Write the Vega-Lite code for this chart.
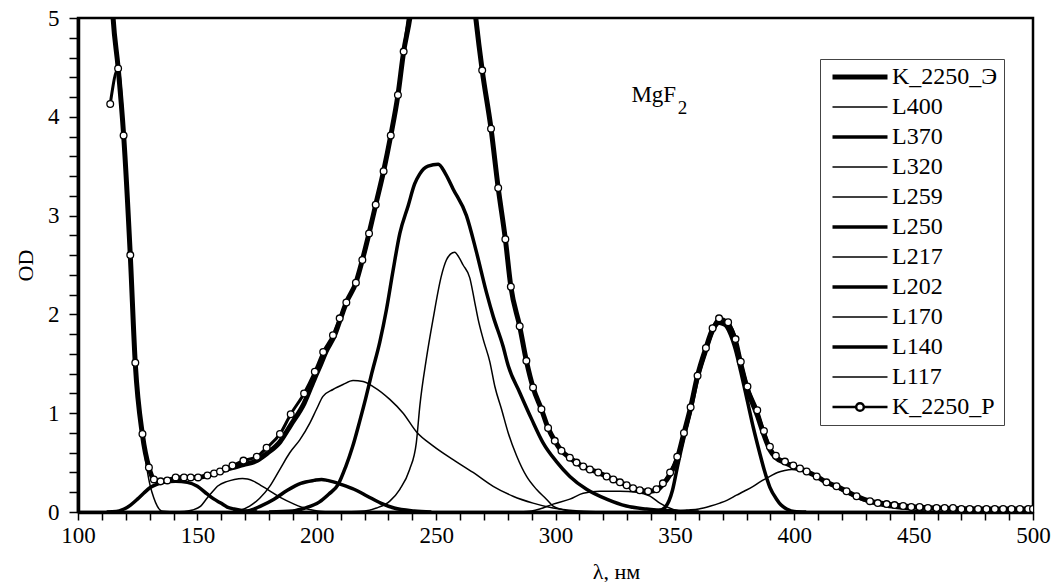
{
  "$schema": "https://vega.github.io/schema/vega-lite/v6.json",
  "width": 955,
  "height": 494,
  "autosize": {"type": "none"},
  "padding": {"left": 78, "top": 18, "right": 20, "bottom": 70},
  "background": "white",
  "config": {
    "view": {"stroke": "black", "strokeWidth": 2.5},
    "font": "Liberation Serif",
    "axis": {
      "grid": false,
      "ticks": true,
      "tickWidth": 1.5,
      "tickColor": "#000000",
      "domainColor": "#000000",
      "domainWidth": 3.5,
      "labelColor": "#000000",
      "labelOverlap": false,
      "labelFlush": false,
      "labelFont": "Liberation Serif",
      "titleFont": "Liberation Serif",
      "titleFontWeight": "normal",
      "titleColor": "#000000"
    },
    "axisX": {"tickSize": 8, "labelFontSize": 23, "labelPadding": 4, "titleFontSize": 22},
    "axisY": {"tickSize": 9, "labelFontSize": 23, "labelPadding": 10, "titleFontSize": 22}
  },
  "datasets": {
    "curves": [
      {"s":"K_2250_Э","x":113,"y":5.8},{"s":"K_2250_Э","x":114.7,"y":5.0},{"s":"K_2250_Э","x":116.8,"y":4.5},{"s":"K_2250_Э","x":119.1,"y":3.82},{"s":"K_2250_Э","x":121.9,"y":2.6},{"s":"K_2250_Э","x":124,"y":1.5},{"s":"K_2250_Э","x":127,"y":0.78},{"s":"K_2250_Э","x":129.7,"y":0.45},{"s":"K_2250_Э","x":131.8,"y":0.33},{"s":"K_2250_Э","x":134.6,"y":0.31},{"s":"K_2250_Э","x":137.4,"y":0.32},{"s":"K_2250_Э","x":140.9,"y":0.34},{"s":"K_2250_Э","x":144.4,"y":0.35},{"s":"K_2250_Э","x":147.2,"y":0.35},{"s":"K_2250_Э","x":150.3,"y":0.35},{"s":"K_2250_Э","x":154.2,"y":0.37},{"s":"K_2250_Э","x":157,"y":0.39},{"s":"K_2250_Э","x":161.9,"y":0.43},{"s":"K_2250_Э","x":164.7,"y":0.45},{"s":"K_2250_Э","x":169.3,"y":0.48},{"s":"K_2250_Э","x":174.9,"y":0.52},{"s":"K_2250_Э","x":179,"y":0.59},{"s":"K_2250_Э","x":184.6,"y":0.71},{"s":"K_2250_Э","x":189.1,"y":0.88},{"s":"K_2250_Э","x":194.7,"y":1.1},{"s":"K_2250_Э","x":199.2,"y":1.36},{"s":"K_2250_Э","x":201.4,"y":1.48},{"s":"K_2250_Э","x":203.8,"y":1.62},{"s":"K_2250_Э","x":207.5,"y":1.79},{"s":"K_2250_Э","x":210,"y":1.96},{"s":"K_2250_Э","x":212.4,"y":2.12},{"s":"K_2250_Э","x":216.4,"y":2.32},{"s":"K_2250_Э","x":219.1,"y":2.55},{"s":"K_2250_Э","x":221.9,"y":2.82},{"s":"K_2250_Э","x":224.7,"y":3.11},{"s":"K_2250_Э","x":228,"y":3.45},{"s":"K_2250_Э","x":231,"y":3.81},{"s":"K_2250_Э","x":234,"y":4.22},{"s":"K_2250_Э","x":236.4,"y":4.66},{"s":"K_2250_Э","x":239,"y":5.0},{"s":"K_2250_Э","x":242,"y":5.6},{"s":"K_2250_Э","x":253,"y":7.0},{"s":"K_2250_Э","x":264,"y":5.6},{"s":"K_2250_Э","x":266.6,"y":5.0},{"s":"K_2250_Э","x":269.3,"y":4.47},{"s":"K_2250_Э","x":273,"y":3.88},{"s":"K_2250_Э","x":276,"y":3.28},{"s":"K_2250_Э","x":279,"y":2.76},{"s":"K_2250_Э","x":281.3,"y":2.28},{"s":"K_2250_Э","x":285,"y":1.88},{"s":"K_2250_Э","x":287.8,"y":1.53},{"s":"K_2250_Э","x":290.6,"y":1.26},{"s":"K_2250_Э","x":294.1,"y":1.04},{"s":"K_2250_Э","x":296.9,"y":0.85},{"s":"K_2250_Э","x":299.7,"y":0.72},{"s":"K_2250_Э","x":302.5,"y":0.62},{"s":"K_2250_Э","x":306,"y":0.55},{"s":"K_2250_Э","x":308.8,"y":0.5},{"s":"K_2250_Э","x":311.6,"y":0.46},{"s":"K_2250_Э","x":314.4,"y":0.43},{"s":"K_2250_Э","x":317.9,"y":0.4},{"s":"K_2250_Э","x":321.4,"y":0.36},{"s":"K_2250_Э","x":324.2,"y":0.33},{"s":"K_2250_Э","x":327,"y":0.3},{"s":"K_2250_Э","x":329.8,"y":0.27},{"s":"K_2250_Э","x":332.5,"y":0.24},{"s":"K_2250_Э","x":335.3,"y":0.22},{"s":"K_2250_Э","x":338.8,"y":0.21},{"s":"K_2250_Э","x":342.3,"y":0.22},{"s":"K_2250_Э","x":345,"y":0.28},{"s":"K_2250_Э","x":348,"y":0.38},{"s":"K_2250_Э","x":351,"y":0.54},{"s":"K_2250_Э","x":353.8,"y":0.8},{"s":"K_2250_Э","x":356.6,"y":1.06},{"s":"K_2250_Э","x":359.5,"y":1.38},{"s":"K_2250_Э","x":363,"y":1.66},{"s":"K_2250_Э","x":365.8,"y":1.85},{"s":"K_2250_Э","x":368.5,"y":1.92},{"s":"K_2250_Э","x":372.3,"y":1.89},{"s":"K_2250_Э","x":375.4,"y":1.73},{"s":"K_2250_Э","x":377.6,"y":1.5},{"s":"K_2250_Э","x":380.4,"y":1.24},{"s":"K_2250_Э","x":384.5,"y":0.98},{"s":"K_2250_Э","x":387.3,"y":0.78},{"s":"K_2250_Э","x":389.8,"y":0.63},{"s":"K_2250_Э","x":392.3,"y":0.55},{"s":"K_2250_Э","x":396.1,"y":0.5},{"s":"K_2250_Э","x":399.6,"y":0.46},{"s":"K_2250_Э","x":402.4,"y":0.44},{"s":"K_2250_Э","x":405.2,"y":0.41},{"s":"K_2250_Э","x":409.4,"y":0.36},{"s":"K_2250_Э","x":413.5,"y":0.3},{"s":"K_2250_Э","x":417.7,"y":0.26},{"s":"K_2250_Э","x":421.9,"y":0.21},{"s":"K_2250_Э","x":426.1,"y":0.16},{"s":"K_2250_Э","x":431.7,"y":0.11},{"s":"K_2250_Э","x":438.7,"y":0.08},{"s":"K_2250_Э","x":445.6,"y":0.06},{"s":"K_2250_Э","x":459.6,"y":0.04},{"s":"K_2250_Э","x":480,"y":0.03},{"s":"K_2250_Э","x":500,"y":0.03},

      {"s":"K_2250_P","x":113.5,"y":4.13},{"s":"K_2250_P","x":116.8,"y":4.49},{"s":"K_2250_P","x":119.1,"y":3.81},{"s":"K_2250_P","x":121.9,"y":2.6},{"s":"K_2250_P","x":124,"y":1.51},{"s":"K_2250_P","x":127,"y":0.79},{"s":"K_2250_P","x":129.7,"y":0.45},{"s":"K_2250_P","x":131.8,"y":0.33},{"s":"K_2250_P","x":134.6,"y":0.31},{"s":"K_2250_P","x":137.4,"y":0.32},{"s":"K_2250_P","x":140.9,"y":0.35},{"s":"K_2250_P","x":144.4,"y":0.35},{"s":"K_2250_P","x":147.2,"y":0.35},{"s":"K_2250_P","x":150.3,"y":0.35},{"s":"K_2250_P","x":154.2,"y":0.37},{"s":"K_2250_P","x":157,"y":0.39},{"s":"K_2250_P","x":159.5,"y":0.41},{"s":"K_2250_P","x":161.9,"y":0.44},{"s":"K_2250_P","x":164.7,"y":0.47},{"s":"K_2250_P","x":169.3,"y":0.52},{"s":"K_2250_P","x":174.9,"y":0.56},{"s":"K_2250_P","x":179,"y":0.65},{"s":"K_2250_P","x":184.6,"y":0.79},{"s":"K_2250_P","x":189.1,"y":0.99},{"s":"K_2250_P","x":194.7,"y":1.2},{"s":"K_2250_P","x":199.2,"y":1.42},{"s":"K_2250_P","x":202.7,"y":1.62},{"s":"K_2250_P","x":206.8,"y":1.79},{"s":"K_2250_P","x":209.6,"y":1.96},{"s":"K_2250_P","x":212.4,"y":2.12},{"s":"K_2250_P","x":216.4,"y":2.32},{"s":"K_2250_P","x":219.1,"y":2.55},{"s":"K_2250_P","x":221.9,"y":2.82},{"s":"K_2250_P","x":224.7,"y":3.11},{"s":"K_2250_P","x":228,"y":3.45},{"s":"K_2250_P","x":231,"y":3.81},{"s":"K_2250_P","x":234,"y":4.22},{"s":"K_2250_P","x":236.4,"y":4.66},{"s":"K_2250_P","x":242,"y":5.6},{"s":"K_2250_P","x":253,"y":7.0},{"s":"K_2250_P","x":264,"y":5.6},{"s":"K_2250_P","x":269.3,"y":4.47},{"s":"K_2250_P","x":273,"y":3.88},{"s":"K_2250_P","x":276,"y":3.28},{"s":"K_2250_P","x":279,"y":2.76},{"s":"K_2250_P","x":281.3,"y":2.28},{"s":"K_2250_P","x":285,"y":1.88},{"s":"K_2250_P","x":287.8,"y":1.53},{"s":"K_2250_P","x":290.6,"y":1.26},{"s":"K_2250_P","x":294.1,"y":1.04},{"s":"K_2250_P","x":296.9,"y":0.85},{"s":"K_2250_P","x":299.7,"y":0.72},{"s":"K_2250_P","x":302.5,"y":0.62},{"s":"K_2250_P","x":306,"y":0.55},{"s":"K_2250_P","x":308.8,"y":0.5},{"s":"K_2250_P","x":311.6,"y":0.46},{"s":"K_2250_P","x":314.4,"y":0.43},{"s":"K_2250_P","x":317.9,"y":0.4},{"s":"K_2250_P","x":321.4,"y":0.36},{"s":"K_2250_P","x":324.2,"y":0.33},{"s":"K_2250_P","x":327,"y":0.3},{"s":"K_2250_P","x":329.8,"y":0.27},{"s":"K_2250_P","x":332.5,"y":0.24},{"s":"K_2250_P","x":335.3,"y":0.22},{"s":"K_2250_P","x":338.8,"y":0.21},{"s":"K_2250_P","x":342.3,"y":0.23},{"s":"K_2250_P","x":345,"y":0.29},{"s":"K_2250_P","x":348,"y":0.4},{"s":"K_2250_P","x":351,"y":0.56},{"s":"K_2250_P","x":353.8,"y":0.8},{"s":"K_2250_P","x":356.6,"y":1.06},{"s":"K_2250_P","x":359.5,"y":1.38},{"s":"K_2250_P","x":363,"y":1.66},{"s":"K_2250_P","x":365.8,"y":1.86},{"s":"K_2250_P","x":368.5,"y":1.96},{"s":"K_2250_P","x":372.3,"y":1.92},{"s":"K_2250_P","x":375.4,"y":1.75},{"s":"K_2250_P","x":377.6,"y":1.52},{"s":"K_2250_P","x":380.4,"y":1.27},{"s":"K_2250_P","x":384.5,"y":1.03},{"s":"K_2250_P","x":387.3,"y":0.82},{"s":"K_2250_P","x":389.8,"y":0.66},{"s":"K_2250_P","x":392.3,"y":0.57},{"s":"K_2250_P","x":396.1,"y":0.51},{"s":"K_2250_P","x":399.6,"y":0.47},{"s":"K_2250_P","x":402.4,"y":0.44},{"s":"K_2250_P","x":405.2,"y":0.41},{"s":"K_2250_P","x":409.4,"y":0.36},{"s":"K_2250_P","x":413.5,"y":0.3},{"s":"K_2250_P","x":417.7,"y":0.26},{"s":"K_2250_P","x":421.9,"y":0.21},{"s":"K_2250_P","x":426.1,"y":0.16},{"s":"K_2250_P","x":431.7,"y":0.11},{"s":"K_2250_P","x":435,"y":0.09},{"s":"K_2250_P","x":438.7,"y":0.08},{"s":"K_2250_P","x":442,"y":0.07},{"s":"K_2250_P","x":445.6,"y":0.06},{"s":"K_2250_P","x":449,"y":0.05},{"s":"K_2250_P","x":452.5,"y":0.05},{"s":"K_2250_P","x":456,"y":0.04},{"s":"K_2250_P","x":459.6,"y":0.04},{"s":"K_2250_P","x":463,"y":0.04},{"s":"K_2250_P","x":466.5,"y":0.04},{"s":"K_2250_P","x":470,"y":0.03},{"s":"K_2250_P","x":473.5,"y":0.03},{"s":"K_2250_P","x":477,"y":0.03},{"s":"K_2250_P","x":480.5,"y":0.03},{"s":"K_2250_P","x":484,"y":0.03},{"s":"K_2250_P","x":487.5,"y":0.03},{"s":"K_2250_P","x":491,"y":0.03},{"s":"K_2250_P","x":494.5,"y":0.03},{"s":"K_2250_P","x":498,"y":0.03},{"s":"K_2250_P","x":500,"y":0.03},

      {"s":"L117","x":113,"y":5.8},{"s":"L117","x":115,"y":5.0},{"s":"L117","x":117,"y":4.4},{"s":"L117","x":119,"y":3.8},{"s":"L117","x":122,"y":2.55},{"s":"L117","x":124,"y":1.48},{"s":"L117","x":127,"y":0.75},{"s":"L117","x":129,"y":0.42},{"s":"L117","x":130.2,"y":0.27},{"s":"L117","x":131.8,"y":0.14},{"s":"L117","x":133.2,"y":0.06},{"s":"L117","x":135,"y":0.01},{"s":"L117","x":140,"y":0},

      {"s":"L140","x":112,"y":0},{"s":"L140","x":116,"y":0.005},{"s":"L140","x":119.3,"y":0.03},{"s":"L140","x":122,"y":0.07},{"s":"L140","x":124.9,"y":0.13},{"s":"L140","x":127.5,"y":0.19},{"s":"L140","x":130.4,"y":0.25},{"s":"L140","x":133,"y":0.28},{"s":"L140","x":136,"y":0.3},{"s":"L140","x":140.9,"y":0.31},{"s":"L140","x":145.8,"y":0.3},{"s":"L140","x":150,"y":0.26},{"s":"L140","x":154.2,"y":0.18},{"s":"L140","x":157,"y":0.13},{"s":"L140","x":159.8,"y":0.09},{"s":"L140","x":162.5,"y":0.05},{"s":"L140","x":165.4,"y":0.03},{"s":"L140","x":169.6,"y":0.01},{"s":"L140","x":175,"y":0},

      {"s":"L170","x":140,"y":0},{"s":"L170","x":144.4,"y":0.005},{"s":"L170","x":148,"y":0.02},{"s":"L170","x":151.4,"y":0.06},{"s":"L170","x":154.2,"y":0.145},{"s":"L170","x":156.5,"y":0.21},{"s":"L170","x":158.4,"y":0.26},{"s":"L170","x":162.6,"y":0.31},{"s":"L170","x":165.5,"y":0.33},{"s":"L170","x":168.9,"y":0.34},{"s":"L170","x":171,"y":0.335},{"s":"L170","x":173.7,"y":0.31},{"s":"L170","x":176.5,"y":0.27},{"s":"L170","x":179.3,"y":0.23},{"s":"L170","x":184.9,"y":0.145},{"s":"L170","x":190.5,"y":0.08},{"s":"L170","x":196.1,"y":0.03},{"s":"L170","x":200.3,"y":0.01},{"s":"L170","x":205,"y":0},

      {"s":"L202","x":165,"y":0},{"s":"L202","x":171,"y":0.01},{"s":"L202","x":176.5,"y":0.06},{"s":"L202","x":182.1,"y":0.13},{"s":"L202","x":187.7,"y":0.22},{"s":"L202","x":193.3,"y":0.29},{"s":"L202","x":198.9,"y":0.32},{"s":"L202","x":202,"y":0.33},{"s":"L202","x":204.5,"y":0.32},{"s":"L202","x":207,"y":0.305},{"s":"L202","x":210.1,"y":0.28},{"s":"L202","x":215.6,"y":0.23},{"s":"L202","x":221.2,"y":0.16},{"s":"L202","x":226.8,"y":0.09},{"s":"L202","x":232.4,"y":0.04},{"s":"L202","x":240.8,"y":0.01},{"s":"L202","x":248,"y":0},

      {"s":"L217","x":160,"y":0},{"s":"L217","x":165,"y":0.005},{"s":"L217","x":171.9,"y":0.06},{"s":"L217","x":176.1,"y":0.14},{"s":"L217","x":180.3,"y":0.26},{"s":"L217","x":184.5,"y":0.43},{"s":"L217","x":188.7,"y":0.6},{"s":"L217","x":192.9,"y":0.73},{"s":"L217","x":197.1,"y":0.9},{"s":"L217","x":199.9,"y":1.04},{"s":"L217","x":202.6,"y":1.17},{"s":"L217","x":206.8,"y":1.24},{"s":"L217","x":211,"y":1.29},{"s":"L217","x":215.2,"y":1.33},{"s":"L217","x":219.4,"y":1.32},{"s":"L217","x":223.6,"y":1.27},{"s":"L217","x":230.6,"y":1.14},{"s":"L217","x":236.2,"y":1.0},{"s":"L217","x":241.8,"y":0.81},{"s":"L217","x":248.7,"y":0.67},{"s":"L217","x":257.1,"y":0.53},{"s":"L217","x":265.5,"y":0.4},{"s":"L217","x":273.9,"y":0.26},{"s":"L217","x":282.2,"y":0.16},{"s":"L217","x":290.6,"y":0.09},{"s":"L217","x":299,"y":0.04},{"s":"L217","x":310,"y":0.01},{"s":"L217","x":320,"y":0},

      {"s":"L250","x":180,"y":0},{"s":"L250","x":190,"y":0.01},{"s":"L250","x":195,"y":0.04},{"s":"L250","x":201,"y":0.1},{"s":"L250","x":205,"y":0.18},{"s":"L250","x":209,"y":0.28},{"s":"L250","x":212,"y":0.45},{"s":"L250","x":215,"y":0.66},{"s":"L250","x":218,"y":0.92},{"s":"L250","x":220.5,"y":1.15},{"s":"L250","x":223,"y":1.4},{"s":"L250","x":226.4,"y":1.72},{"s":"L250","x":229.2,"y":2.05},{"s":"L250","x":232,"y":2.45},{"s":"L250","x":234.8,"y":2.82},{"s":"L250","x":238.3,"y":3.1},{"s":"L250","x":241,"y":3.32},{"s":"L250","x":243.1,"y":3.42},{"s":"L250","x":246.6,"y":3.5},{"s":"L250","x":250.9,"y":3.52},{"s":"L250","x":254,"y":3.42},{"s":"L250","x":257.1,"y":3.27},{"s":"L250","x":262.7,"y":3.0},{"s":"L250","x":266.9,"y":2.63},{"s":"L250","x":271.1,"y":2.22},{"s":"L250","x":273.9,"y":1.98},{"s":"L250","x":278,"y":1.68},{"s":"L250","x":280.2,"y":1.48},{"s":"L250","x":285,"y":1.21},{"s":"L250","x":290,"y":0.94},{"s":"L250","x":294.8,"y":0.7},{"s":"L250","x":300.4,"y":0.51},{"s":"L250","x":306,"y":0.36},{"s":"L250","x":313,"y":0.23},{"s":"L250","x":321.4,"y":0.13},{"s":"L250","x":329.7,"y":0.06},{"s":"L250","x":338.1,"y":0.03},{"s":"L250","x":350,"y":0.01},{"s":"L250","x":360,"y":0},

      {"s":"L259","x":212,"y":0},{"s":"L259","x":220,"y":0.01},{"s":"L259","x":225,"y":0.04},{"s":"L259","x":230.6,"y":0.11},{"s":"L259","x":234.8,"y":0.23},{"s":"L259","x":238.9,"y":0.43},{"s":"L259","x":241.7,"y":0.7},{"s":"L259","x":243.2,"y":1.08},{"s":"L259","x":245.9,"y":1.55},{"s":"L259","x":248.7,"y":1.95},{"s":"L259","x":252.2,"y":2.39},{"s":"L259","x":254.3,"y":2.55},{"s":"L259","x":256,"y":2.61},{"s":"L259","x":257.8,"y":2.63},{"s":"L259","x":259.5,"y":2.58},{"s":"L259","x":261.3,"y":2.5},{"s":"L259","x":264.1,"y":2.37},{"s":"L259","x":266.2,"y":2.12},{"s":"L259","x":267.6,"y":1.95},{"s":"L259","x":269.7,"y":1.75},{"s":"L259","x":272.5,"y":1.52},{"s":"L259","x":274.6,"y":1.27},{"s":"L259","x":277.4,"y":1.04},{"s":"L259","x":280.2,"y":0.8},{"s":"L259","x":283.7,"y":0.57},{"s":"L259","x":287.9,"y":0.36},{"s":"L259","x":292,"y":0.23},{"s":"L259","x":296.2,"y":0.13},{"s":"L259","x":299,"y":0.06},{"s":"L259","x":302,"y":0.03},{"s":"L259","x":310,"y":0},

      {"s":"L320","x":285,"y":0},{"s":"L320","x":290,"y":0.01},{"s":"L320","x":293.4,"y":0.03},{"s":"L320","x":299,"y":0.08},{"s":"L320","x":306,"y":0.13},{"s":"L320","x":311.6,"y":0.19},{"s":"L320","x":318.6,"y":0.21},{"s":"L320","x":327,"y":0.21},{"s":"L320","x":334,"y":0.2},{"s":"L320","x":339.6,"y":0.16},{"s":"L320","x":343.7,"y":0.09},{"s":"L320","x":349.3,"y":0.025},{"s":"L320","x":355,"y":0},{"s":"L320","x":360,"y":0},

      {"s":"L370","x":340,"y":0},{"s":"L370","x":343,"y":0.01},{"s":"L370","x":346,"y":0.05},{"s":"L370","x":349,"y":0.22},{"s":"L370","x":351,"y":0.45},{"s":"L370","x":353.8,"y":0.75},{"s":"L370","x":356.6,"y":1.02},{"s":"L370","x":359.5,"y":1.34},{"s":"L370","x":363,"y":1.62},{"s":"L370","x":365.8,"y":1.82},{"s":"L370","x":368.5,"y":1.91},{"s":"L370","x":371,"y":1.89},{"s":"L370","x":373,"y":1.81},{"s":"L370","x":375.4,"y":1.64},{"s":"L370","x":377.6,"y":1.42},{"s":"L370","x":380.4,"y":1.12},{"s":"L370","x":383,"y":0.84},{"s":"L370","x":385.5,"y":0.6},{"s":"L370","x":387.5,"y":0.42},{"s":"L370","x":389.8,"y":0.25},{"s":"L370","x":392.6,"y":0.13},{"s":"L370","x":394.5,"y":0.07},{"s":"L370","x":396.8,"y":0.03},{"s":"L370","x":400,"y":0.005},{"s":"L370","x":405,"y":0},

      {"s":"L400","x":340,"y":0},{"s":"L400","x":345,"y":0.005},{"s":"L400","x":350,"y":0.01},{"s":"L400","x":355,"y":0.02},{"s":"L400","x":360,"y":0.03},{"s":"L400","x":362,"y":0.04},{"s":"L400","x":365,"y":0.06},{"s":"L400","x":368.8,"y":0.09},{"s":"L400","x":372,"y":0.12},{"s":"L400","x":375.8,"y":0.17},{"s":"L400","x":379,"y":0.21},{"s":"L400","x":382.8,"y":0.26},{"s":"L400","x":386,"y":0.31},{"s":"L400","x":389.8,"y":0.36},{"s":"L400","x":393,"y":0.4},{"s":"L400","x":396,"y":0.42},{"s":"L400","x":399,"y":0.43},{"s":"L400","x":402,"y":0.42},{"s":"L400","x":405,"y":0.4},{"s":"L400","x":409.4,"y":0.35},{"s":"L400","x":413.5,"y":0.29},{"s":"L400","x":417.7,"y":0.24},{"s":"L400","x":421.9,"y":0.19},{"s":"L400","x":426.1,"y":0.14},{"s":"L400","x":431.7,"y":0.09},{"s":"L400","x":438.7,"y":0.05},{"s":"L400","x":445.6,"y":0.03},{"s":"L400","x":455,"y":0.01},{"s":"L400","x":470,"y":0}
    ]
  },
  "encoding": {
    "x": {
      "field": "x", "type": "quantitative",
      "scale": {"domain": [100, 500], "nice": false, "zero": false},
      "axis": {
        "title": "λ, нм",
        "values": [100,110,120,130,140,150,160,170,180,190,200,210,220,230,240,250,260,270,280,290,300,310,320,330,340,350,360,370,380,390,400,410,420,430,440,450,460,470,480,490,500],
        "labelExpr": "datum.value % 50 === 0 ? format(datum.value, 'd') : ''",
        "labelOverlap": false,
        "titleX": 538, "titleY": 66, "titleBaseline": "alphabetic", "titleAlign": "center"
      }
    },
    "y": {
      "field": "y", "type": "quantitative",
      "scale": {"domain": [0, 5], "nice": false},
      "axis": {
        "title": "OD",
        "values": [0,0.2,0.4,0.6,0.8,1,1.2,1.4,1.6,1.8,2,2.2,2.4,2.6,2.8,3,3.2,3.4,3.6,3.8,4,4.2,4.4,4.6,4.8,5],
        "labelExpr": "datum.value % 1 === 0 ? format(datum.value, 'd') : ''",
        "labelOverlap": false,
        "titleX": -53, "titleY": 247, "titleBaseline": "middle", "titleAlign": "center", "titleAngle": -90
      }
    }
  },
  "layer": [
    {
      "data": {"name": "curves"},
      "transform": [{"filter": {"field": "s", "oneOf": ["L400", "L320", "L259", "L217", "L170", "L117"]}}],
      "mark": {"type": "line", "strokeWidth": 1.5, "interpolate": "monotone", "clip": true},
      "encoding": {
        "color": {
          "field": "s", "type": "nominal",
          "scale": {
            "domain": ["K_2250_Э", "L400", "L370", "L320", "L259", "L250", "L217", "L202", "L170", "L140", "L117", "K_2250_P"],
            "range": ["#000000","#000000","#000000","#000000","#000000","#000000","#000000","#000000","#000000","#000000","#000000","#000000"]
          },
          "legend": {
            "title": null,
            "orient": "none", "legendX": 742, "legendY": 41,
            "strokeColor": "#444444", "fillColor": "white", "padding": 6,
            "labelFont": "Liberation Serif", "labelFontSize": 24, "labelColor": "black",
            "labelOffset": 42,
            "symbolType": "M-1,0L9,0", "symbolSize": 121, "symbolStrokeWidth": 2,
            "rowPadding": 6,
            "encode": {
              "symbols": {
                "update": {
                  "shape": {"signal": "datum.value === 'K_2250_P' ? 'M-1,0L3.3,0M4.7,0L9,0M4.7,0A0.7,0.7,0,1,1,3.3,0A0.7,0.7,0,1,1,4.7,0Z' : 'M-1,0L9,0'"},
                  "strokeWidth": {"signal": "datum.value === 'K_2250_Э' ? 5 : (datum.value === 'K_2250_P' ? 2.5 : (indexof(['L370','L250','L202','L140'], datum.value) >= 0 ? 3.5 : 1.5))"},
                  "stroke": {"value": "black"},
                  "fill": {"value": "white"},
                  "opacity": {"value": 1}
                }
              }
            }
          }
        }
      }
    },
    {
      "data": {"name": "curves"},
      "transform": [{"filter": {"field": "s", "oneOf": ["L370", "L250", "L202", "L140"]}}],
      "mark": {"type": "line", "strokeWidth": 3.5, "interpolate": "monotone", "clip": true},
      "encoding": {"color": {"field": "s", "type": "nominal"}}
    },
    {
      "data": {"name": "curves"},
      "transform": [{"filter": {"field": "s", "equal": "K_2250_Э"}}],
      "mark": {"type": "line", "strokeWidth": 5, "interpolate": "monotone", "clip": true},
      "encoding": {"color": {"field": "s", "type": "nominal"}}
    },
    {
      "data": {"name": "curves"},
      "transform": [{"filter": {"field": "s", "equal": "K_2250_P"}}],
      "mark": {"type": "line", "strokeWidth": 3, "interpolate": "monotone", "clip": true},
      "encoding": {"color": {"field": "s", "type": "nominal"}}
    },
    {
      "data": {"name": "curves"},
      "transform": [{"filter": {"field": "s", "equal": "K_2250_P"}}],
      "mark": {"type": "point", "shape": "circle", "filled": true, "fill": "white", "stroke": "black", "strokeWidth": 1.3, "size": 45, "opacity": 1, "clip": true}
    },
    {
      "data": {"values": [{"x": 331.8, "y": 4.146, "t": "MgF"}]},
      "mark": {"type": "text", "font": "Liberation Serif", "fontSize": 23, "align": "left", "baseline": "alphabetic", "color": "black"},
      "encoding": {"text": {"field": "t"}}
    },
    {
      "data": {"values": [{"x": 351.2, "y": 4.03, "t": "2"}]},
      "mark": {"type": "text", "font": "Liberation Serif", "fontSize": 19, "align": "left", "baseline": "alphabetic", "color": "black"},
      "encoding": {"text": {"field": "t"}}
    }
  ]
}
